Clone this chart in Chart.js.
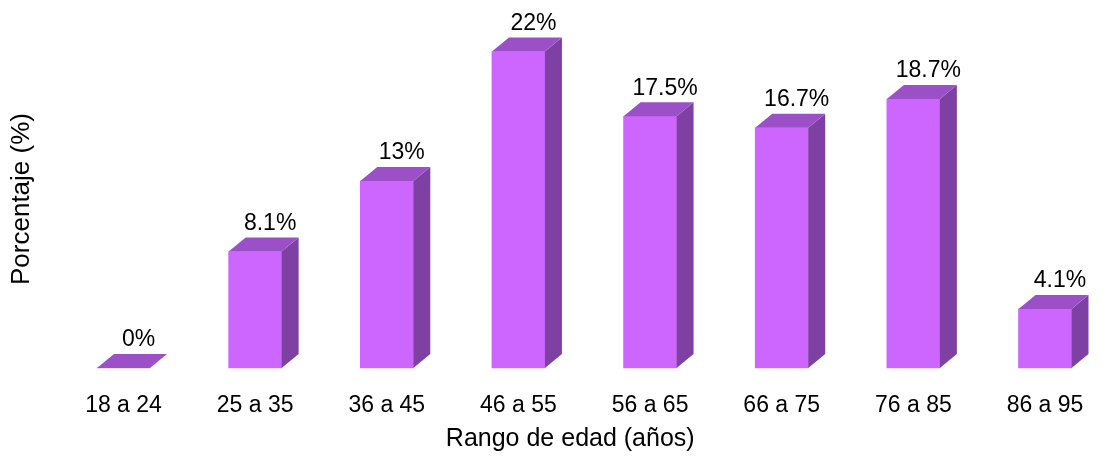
<!DOCTYPE html>
<html>
<head>
<meta charset="utf-8">
<script src="https://cdn.jsdelivr.net/npm/chart.js@4/dist/chart.umd.min.js"></script>
<style>
  html, body { margin: 0; padding: 0; background: #fff; overflow: hidden; }
  #wrap { width: 1104px; height: 457px; position: relative; }
</style>
</head>
<body>
<div id="wrap"><canvas id="myChart"></canvas></div>
<script>
// rangos de edad y porcentaje de cada uno
const rangos = ['18 a 24', '25 a 35', '36 a 45', '46 a 55', '56 a 65', '66 a 75', '76 a 85', '86 a 95'];
const porcentajes = [0, 8.1, 13, 22, 17.5, 16.7, 18.7, 4.1];
const etiquetas = ['0%', '8.1%', '13%', '22%', '17.5%', '16.7%', '18.7%', '4.1%'];

const FUENTE = '"Liberation Sans", Arial, sans-serif';
const COLOR_FRENTE = '#cc66ff';
const COLOR_ARRIBA = '#9b50c8';
const COLOR_LADO = '#7f40a3';
const PROF_X = 17; // profundidad del efecto 3D
const PROF_Y = 14;

// caras superior y lateral de cada barra + texto del valor
const barras3d = {
    id: 'barras3d',
    afterDatasetsDraw(chart) {
        const ctx = chart.ctx;
        const meta = chart.getDatasetMeta(0);
        ctx.save();
        meta.data.forEach(function (bar, i) {
            const x0 = bar.x - bar.width / 2;
            const x1 = bar.x + bar.width / 2;
            const yt = bar.y;
            const yb = bar.base;
            // lado
            if (yb - yt > 0.5) {
                ctx.fillStyle = COLOR_LADO;
                ctx.beginPath();
                ctx.moveTo(x1, yt);
                ctx.lineTo(x1 + PROF_X, yt - PROF_Y);
                ctx.lineTo(x1 + PROF_X, yb - PROF_Y);
                ctx.lineTo(x1, yb);
                ctx.closePath();
                ctx.fill();
            }
            // arriba
            ctx.fillStyle = COLOR_ARRIBA;
            ctx.beginPath();
            ctx.moveTo(x0, yt);
            ctx.lineTo(x1, yt);
            ctx.lineTo(x1 + PROF_X, yt - PROF_Y);
            ctx.lineTo(x0 + PROF_X, yt - PROF_Y);
            ctx.closePath();
            ctx.fill();
            // valor
            ctx.fillStyle = '#000';
            ctx.font = '23px ' + FUENTE;
            ctx.textAlign = 'center';
            ctx.textBaseline = 'middle';
            ctx.fillText(etiquetas[i], bar.x + 15, yt - 28);
        });
        // titulo del eje x, un poco a la izquierda del centro
        const area = chart.chartArea;
        ctx.font = '25px ' + FUENTE;
        ctx.fillText('Rango de edad (años)', (area.left + area.right) / 2 - 14, 439);
        ctx.restore();
    }
};

const ctx = document.getElementById('myChart');
new Chart(ctx, {
    type: 'bar',
    data: {
        labels: rangos,
        datasets: [{
            data: porcentajes,
            backgroundColor: COLOR_FRENTE,
            borderWidth: 0,
            barThickness: 53,
            clip: false
        }]
    },
    options: {
        responsive: true,
        maintainAspectRatio: false,
        animation: false,
        layout: { padding: { left: 3, right: 59, top: 30, bottom: 3 } },
        plugins: {
            legend: { display: false },
            tooltip: { enabled: false }
        },
        scales: {
            x: {
                offset: false,
                grid: { display: false, drawTicks: false },
                border: { display: false },
                ticks: { color: '#000', font: { family: FUENTE, size: 23 }, padding: 24, maxRotation: 0, autoSkip: false },
                title: { display: false },
                afterFit: function (scale) {
                    scale.height = 86;
                    scale.paddingLeft = 0;
                    scale.paddingRight = 0;
                }
            },
            y: {
                min: 0,
                max: 23.5,
                grid: { display: false, drawTicks: false },
                border: { display: false },
                ticks: { display: false },
                title: { display: true, text: 'Porcentaje (%)', color: '#000', font: { family: FUENTE, size: 26 }, padding: { top: 3, bottom: 0 } },
                afterFit: function (scale) { scale.width = 120.5; }
            }
        }
    },
    plugins: [barras3d]
});
</script>
</body>
</html>
